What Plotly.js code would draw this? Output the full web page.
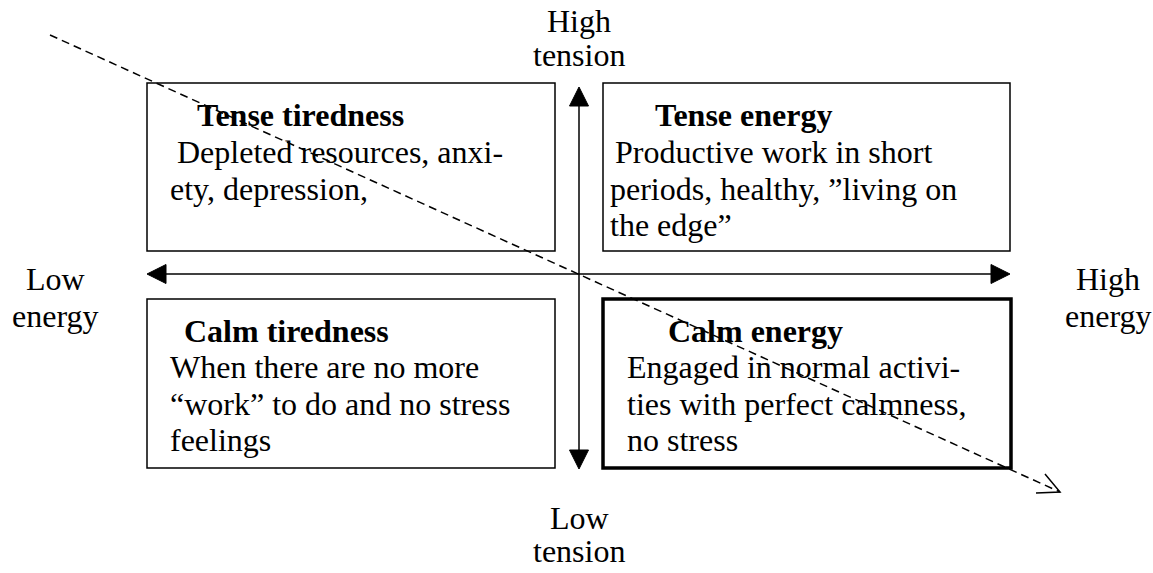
<!DOCTYPE html>
<html>
<head>
<meta charset="utf-8">
<script src="https://cdn.plot.ly/plotly-3.0.1.min.js"></script>
<style>html,body{margin:0;padding:0;background:#fff;}#chart{width:1153px;height:573px;}</style>
</head>
<body>
<div id="chart"></div>
<script>
// ---- content ----
const quadrantTitles = ["Tense tiredness", "Tense energy", "Calm tiredness", "Calm energy"];
const quadrantLines = [
  ["Depleted resources, anxi-", "ety, depression,"],
  ["Productive work in short", "periods, healthy, \u201dliving on", "the edge\u201d"],
  ["When there are no more", "\u201cwork\u201d to do and no stress", "feelings"],
  ["Engaged in normal activi-", "ties with perfect calmness,", "no stress"]
];
const axisLabels = [["High", "tension"], ["Low", "tension"], ["Low", "energy"], ["High", "energy"]];

// ---- layout geometry (pixels, y down) ----
const W = 1153, H = 573;
const FONT = "'Liberation Serif', 'Times New Roman', serif";
const FS = 32;
const boxes = [
  {x0:147, x1:555, y0:83,  y1:251, w:1.5},
  {x0:603, x1:1010, y0:83, y1:251, w:1.5},
  {x0:147, x1:555, y0:299, y1:468, w:1.5},
  {x0:603, x1:1011, y0:299, y1:468, w:3.5}
];
const titlePos = [[195,115],[653,115],[182,331],[666,331]];
const bodyX = [[175,168],[613,608,608],[168,168,168],[625,625,625]];
const bodyY0 = [152, 152, 367, 367];
const LINE = 36.5;
const labelPos = [[579,21,55],[579,518,551],[55,279,316],[1108,279,316]];

const shapes = [];
const annotations = [];

boxes.forEach(b => shapes.push({type:'rect', xref:'x', yref:'y', x0:b.x0, x1:b.x1, y0:b.y0, y1:b.y1,
  line:{color:'#000', width:b.w}, fillcolor:'rgba(0,0,0,0)'}));

// main axes arrows
const hY = 274, hX0 = 147, hX1 = 1010;
const vX = 579, vY0 = 87, vY1 = 469;
const AL = 19, AW = 9.5;
shapes.push({type:'line', xref:'x', yref:'y', x0:hX0+5, x1:hX1-5, y0:hY, y1:hY, line:{color:'#000', width:1.5}});
shapes.push({type:'line', xref:'x', yref:'y', x0:vX, x1:vX, y0:vY0+5, y1:vY1-5, line:{color:'#000', width:1.5}});
function tri(p) { return {type:'path', xref:'x', yref:'y', path:p, fillcolor:'#000', line:{color:'#000', width:1}}; }
shapes.push(tri(`M${hX0},${hY} L${hX0+AL},${hY-AW} L${hX0+AL},${hY+AW} Z`));
shapes.push(tri(`M${hX1},${hY} L${hX1-AL},${hY-AW} L${hX1-AL},${hY+AW} Z`));
shapes.push(tri(`M${vX},${vY0} L${vX-AW},${vY0+AL} L${vX+AW},${vY0+AL} Z`));
shapes.push(tri(`M${vX},${vY1} L${vX-AW},${vY1-AL} L${vX+AW},${vY1-AL} Z`));

// dashed diagonal with open arrowhead
const dStart = [50, 35], dTip = [1060, 492];
shapes.push({type:'line', xref:'x', yref:'y', x0:dStart[0], y0:dStart[1], x1:dTip[0], y1:dTip[1],
  line:{color:'#000', width:1.5, dash:'8px,5px'}});
shapes.push({type:'path', xref:'x', yref:'y', path:`M1045,474 L${dTip[0]},${dTip[1]} L1036,493`,
  line:{color:'#000', width:1.5}});

// quadrant text
quadrantTitles.forEach((t, i) => {
  annotations.push({x:titlePos[i][0], y:titlePos[i][1], xref:'x', yref:'y', text:'<b>'+t+'</b>',
    showarrow:false, xanchor:'left', yanchor:'middle', font:{family:FONT, size:FS, color:'#000'}});
  quadrantLines[i].forEach((ln, j) => {
    annotations.push({x:bodyX[i][j], y:bodyY0[i] + j*LINE, xref:'x', yref:'y', text:ln,
      showarrow:false, xanchor:'left', yanchor:'middle', font:{family:FONT, size:FS, color:'#000'}});
  });
});
axisLabels.forEach((lab, i) => {
  lab.forEach((t, j) => {
    annotations.push({x:labelPos[i][0], y:labelPos[i][1+j], xref:'x', yref:'y', text:t,
      showarrow:false, xanchor:'center', yanchor:'middle', borderpad:0,
      font:{family:FONT, size:FS, color:'#000'}});
  });
});

const layout = {
  width: W, height: H,
  margin: {l:0, r:0, t:0, b:0, pad:0},
  paper_bgcolor: '#fff', plot_bgcolor: '#fff',
  xaxis: {range:[0, W], visible:false, fixedrange:true},
  yaxis: {range:[H, 0], visible:false, fixedrange:true},
  showlegend: false,
  shapes: shapes,
  annotations: annotations
};
Plotly.newPlot('chart', [], layout, {displayModeBar:false, staticPlot:true});
</script>
</body>
</html>
